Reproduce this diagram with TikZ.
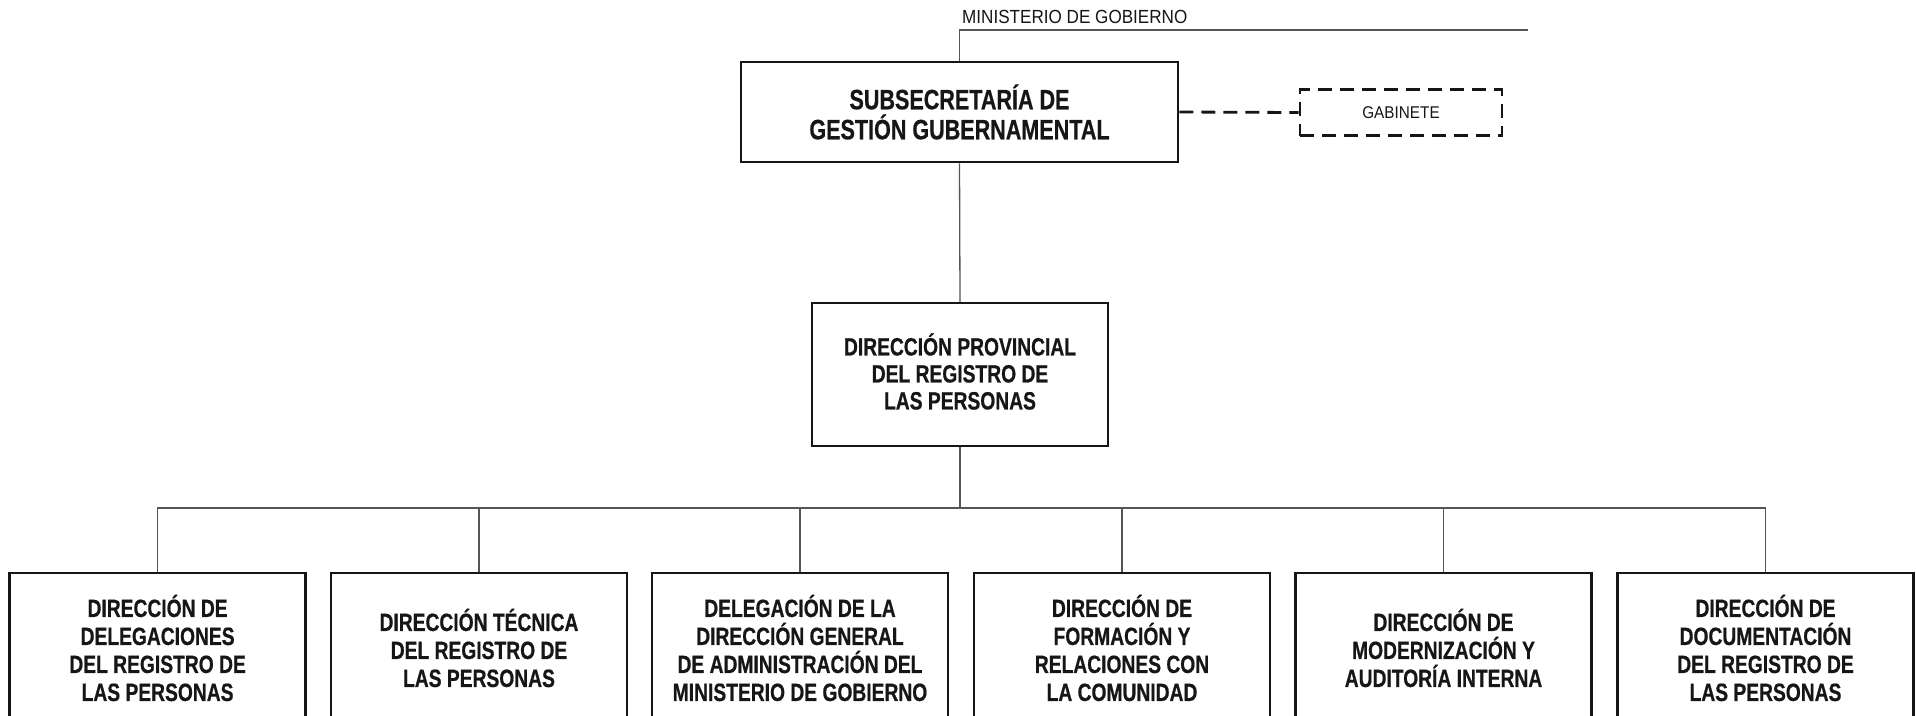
\documentclass[tikz,border=0pt]{standalone}
\usepackage{fontspec}
\newfontfamily\nb[FakeStretch=0.77, BoldFeatures={FakeBold=0.6}]{Liberation Sans}
\newfontfamily\nr[FakeStretch=0.9]{Liberation Sans}
\definecolor{ink}{HTML}{161616}
\definecolor{wire}{HTML}{555555}
\begin{document}
\begin{tikzpicture}[x=1pt,y=-1pt,
  box/.style={draw=ink, line width=2.5pt, align=center, inner sep=0pt, text=ink},
  bigfont/.style={font=\nb\bfseries\fontsize{28}{30}\selectfont},
  midfont/.style={font=\nb\bfseries\fontsize{25}{27}\selectfont},
  lowbox/.style={box, minimum width=296pt, minimum height=150pt, font=\nb\bfseries\fontsize{25}{28}\selectfont},
  conn/.style={draw=wire, line width=1.3pt},
  dashbox/.style={draw=ink, line width=2.8pt, dash pattern=on 14pt off 8pt},
  smallfont/.style={font=\nr\fontsize{19}{21}\selectfont, text=ink}]
\useasboundingbox (0,0) rectangle (1916,715);

\node[box, bigfont, minimum width=437pt, minimum height=100pt] (sub) at (959.5,112) {SUBSECRETARÍA DE\\GESTIÓN GUBERNAMENTAL};
\node[dashbox, minimum width=202pt, minimum height=46pt, inner sep=0pt, font=\nr\fontsize{17}{20}\selectfont, text=ink] (gab) at (1401,112.5) {GABINETE};
\node[smallfont, anchor=base west, inner sep=0pt] (min) at (962,23) {MINISTERIO DE GOBIERNO};
\coordinate (mtop) at (959.5,30);
\coordinate (mend) at (1528,30);

\node[box, minimum width=296pt, minimum height=143pt] (prov) at (960,374.5) {};
\node[midfont, align=center, inner sep=0pt, text=ink] (provtxt) at (960,371.5) {DIRECCIÓN PROVINCIAL\\DEL REGISTRO DE\\LAS PERSONAS};
\coordinate (bus) at (960,508);

\node[lowbox] (b1) at (157.6,648) {DIRECCIÓN DE\\DELEGACIONES\\DEL REGISTRO DE\\LAS PERSONAS};
\node[lowbox] (b2) at (479,648) {DIRECCIÓN TÉCNICA\\DEL REGISTRO DE\\LAS PERSONAS};
\node[lowbox] (b3) at (800,648) {DELEGACIÓN DE LA\\DIRECCIÓN GENERAL\\DE ADMINISTRACIÓN DEL\\MINISTERIO DE GOBIERNO};
\node[lowbox] (b4) at (1122,648) {DIRECCIÓN DE\\FORMACIÓN Y\\RELACIONES CON\\LA COMUNIDAD};
\node[lowbox] (b5) at (1443.5,648) {DIRECCIÓN DE\\MODERNIZACIÓN Y\\AUDITORÍA INTERNA};
\node[lowbox] (b6) at (1765.5,648) {DIRECCIÓN DE\\DOCUMENTACIÓN\\DEL REGISTRO DE\\LAS PERSONAS};

\draw[conn] (sub.north) -- (mtop) -- (mend);
\draw[dashbox] (sub.east) -- (gab.west);
\draw[conn] (sub.south) -- (prov.north);
\draw[conn] (prov.south) -- (bus);
\foreach \b in {b1,b2,b3,b4,b5,b6} \draw[conn] (\b.north) |- (bus);
\end{tikzpicture}
\end{document}
